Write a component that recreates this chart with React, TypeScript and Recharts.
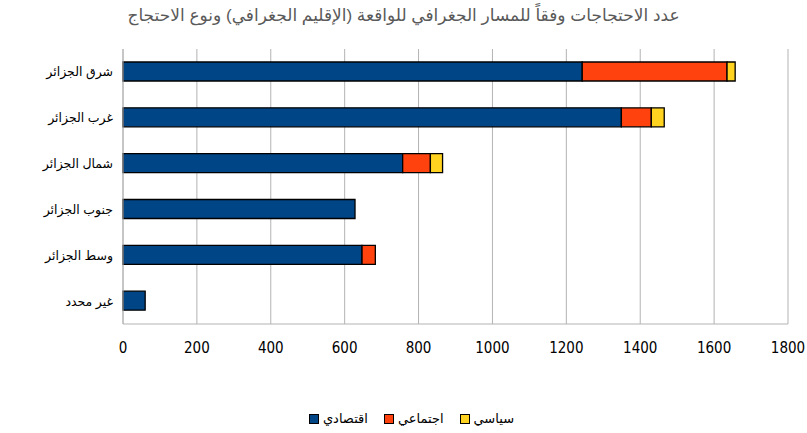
import React from "react";
import { BarChart, Bar, XAxis, YAxis, CartesianGrid } from "recharts";

const regions = ["شرق الجزائر", "غرب الجزائر", "شمال الجزائر", "جنوب الجزائر", "وسط الجزائر", "غير محدد"];
const economic = [1243, 1349, 757, 628, 647, 60];
const social = [392, 81, 75, 0, 36, 0];
const political = [22, 35, 33, 0, 0, 0];
const xTicks = [0, 200, 400, 600, 800, 1000, 1200, 1400, 1600, 1800];
const seriesNames = ["اقتصادي", "اجتماعي", "سياسي"];
const seriesColors = ["#004586", "#ff420e", "#ffd320"];
const title = "عدد الاحتجاجات وفقاً للمسار الجغرافي للواقعة (الإقليم الجغرافي) ونوع الاحتجاج";

const data = regions.map((r, i) => ({
  region: r,
  s0: economic[i],
  s1: social[i],
  s2: political[i],
}));

const font = "'Liberation Sans', Arial, 'DejaVu Sans', sans-serif";

export default function App() {
  return (
    <div style={{ position: "absolute", left: 0, top: 0, width: 807, height: 433, background: "#fff", fontFamily: font }}>
      <div
        style={{
          position: "absolute",
          left: 0,
          width: 807,
          top: 5,
          textAlign: "center",
          fontSize: 17,
          color: "#595959",
          direction: "rtl",
          whiteSpace: "nowrap",
        }}
      >
        {title}
      </div>
      <BarChart
        width={807}
        height={433}
        data={data}
        layout="vertical"
        margin={{ top: 49, right: 19, bottom: 79, left: 0 }}
        barSize={19}
      >
        <CartesianGrid horizontal={false} vertical={true} stroke="#b3b3b3" />
        <XAxis
          type="number"
          domain={[0, 1800]}
          ticks={xTicks}
          interval={0}
          axisLine={{ stroke: "#b3b3b3" }}
          tickLine={false}
          tickSize={0}
          tickMargin={18}
          height={30}
          tick={{ fill: "#000", fontSize: 15, fontFamily: "'Liberation Sans Narrow', 'DejaVu Sans Condensed', sans-serif" }}
        />
        <YAxis
          type="category"
          dataKey="region"
          width={123}
          axisLine={{ stroke: "#b3b3b3" }}
          tickLine={false}
          tickSize={0}
          tickMargin={10}
          interval={0}
          tick={{ fill: "#000", fontSize: 12.5, fontFamily: font }}
        />
        {seriesNames.map((n, i) => (
          <Bar
            key={n}
            dataKey={"s" + i}
            name={n}
            stackId="a"
            fill={seriesColors[i]}
            stroke="#000"
            strokeWidth={1.3}
            isAnimationActive={false}
          />
        ))}
      </BarChart>
      <div
        style={{
          position: "absolute",
          top: 411,
          left: 8,
          width: 807,
          display: "flex",
          justifyContent: "center",
          alignItems: "center",
          fontSize: 13,
          color: "#000",
        }}
      >
        {seriesNames.map((n, i) => (
          <div key={n} style={{ display: "flex", alignItems: "center", marginRight: i < 2 ? 16 : 0 }}>
            <div style={{ width: 8, height: 8, background: seriesColors[i], border: "1px solid #000", marginRight: 4 }} />
            <span style={{ direction: "rtl" }}>{n}</span>
          </div>
        ))}
      </div>
    </div>
  );
}
